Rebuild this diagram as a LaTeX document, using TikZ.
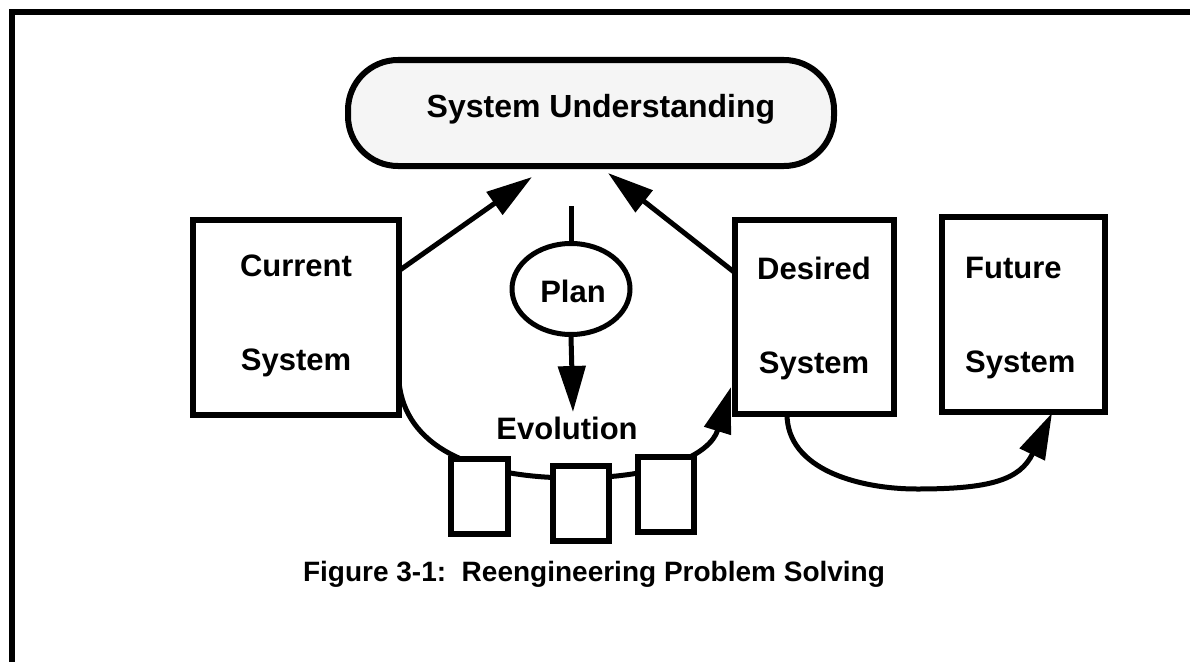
\documentclass[tikz,border=0pt]{standalone}
\usepackage{fontspec}
\setmainfont{Liberation Sans}
\usetikzlibrary{arrows.meta,shapes.geometric}
\definecolor{sufill}{HTML}{F5F5F5}
\tikzset{
  sysbox/.style={draw, line width=6pt, fill=white, inner sep=0pt},
  lbl/.style={anchor=base, inner sep=0pt, font=\bfseries\fontsize{31}{36}\selectfont},
  lblw/.style={anchor=base west, inner sep=0pt, font=\bfseries\fontsize{31}{36}\selectfont},
  arr/.style={line width=5pt, -{Triangle[length=46pt,width=27pt]}},
  conn/.style={line width=5pt},
}
\begin{document}
\begin{tikzpicture}[x=1pt,y=-1pt]
\clip (0,0) rectangle (1190,661);
\fill[white] (0,0) rectangle (1190,661);
% frame
\draw[line width=6pt] (11.5,700) -- (11.5,12) -- (1220,12);

% System Understanding
\node[draw, line width=6pt, fill=sufill, rounded corners=50pt, minimum width=486pt, minimum height=106pt, inner sep=0pt] (su) at (591,113) {};
\node[lbl, font=\bfseries\fontsize{32}{38}\selectfont] (sut) at (601,117) {System Understanding};

% Current System
\node[sysbox, minimum width=206pt, minimum height=195pt] (cur) at (296,317.5) {};
\node[lbl] (cur1) at (296,276) {Current};
\node[lbl] (cur2) at (296,370) {System};

% Desired System
\node[sysbox, minimum width=159pt, minimum height=194pt] (des) at (814.5,317) {};
\node[lbl] (des1) at (814,279) {Desired};
\node[lbl] (des2) at (814,373) {System};

% Future System
\node[sysbox, minimum width=163pt, minimum height=195pt] (fut) at (1023.5,314.5) {};
\node[lblw] (fut1) at (965,278) {Future};
\node[lblw] (fut2) at (965,372) {System};

% Plan
\node[draw, ellipse, line width=5pt, minimum width=118pt, minimum height=91pt, inner sep=0pt] (plan) at (571,289) {};
\node[lbl] (plant) at (573,302) {Plan};
\coordinate (plantop) at (571,206);
\draw[conn] (plantop) -- (plan.north);
\coordinate (evotip) at (573,412);
\draw[arr] (plan.south) -- (evotip);

\node[lbl] (evo) at (567,439) {Evolution};

% arrows to System Understanding
\coordinate (curout) at (400,270);
\coordinate (sutipL) at (532,177);
\draw[arr] (curout) -- (sutipL);
\coordinate (desout) at (734,272);
\coordinate (sutipR) at (608,173);
\draw[arr] (desout) -- (sutipR);

% evolution curve
\coordinate (evostart) at (399,382);
\coordinate (evomid) at (575,478);
\coordinate (evoend) at (731,387);
\draw[conn] (evostart) .. controls (405,445) and (470,478) .. (evomid);
\draw[arr] (evomid) .. controls (660,478) and (710,455) .. (evoend);

% small boxes
\node[sysbox, minimum width=57pt, minimum height=75pt] (sb1) at (479.5,496.5) {};
\node[sysbox, minimum width=56pt, minimum height=75pt] (sb2) at (581,503.5) {};
\node[sysbox, minimum width=56pt, minimum height=75pt] (sb3) at (666,494.5) {};

% desired -> future
\coordinate (desbot) at (787,414);
\coordinate (futmid) at (917,489);
\coordinate (futtip) at (1052,413);
\draw[conn] (desbot) .. controls (787,470) and (860,489) .. (futmid);
\draw[arr] (futmid) .. controls (990,489) and (1020,480) .. (futtip);

% caption
\node[lbl, font=\bfseries\fontsize{28}{33}\selectfont] (cap) at (594,581) {Figure 3-1:\ \ Reengineering Problem Solving};
\end{tikzpicture}
\end{document}
